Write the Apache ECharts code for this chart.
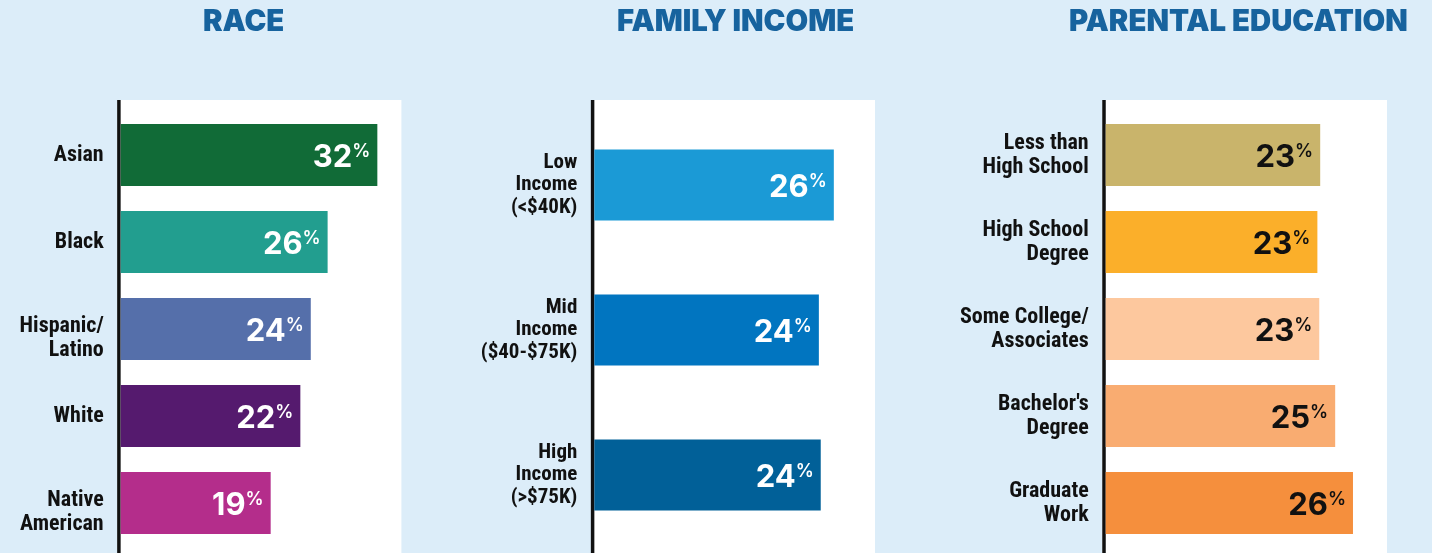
<!DOCTYPE html>
<html>
<head>
<meta charset="utf-8">
<script src="https://cdn.jsdelivr.net/npm/echarts@6/dist/echarts.min.js"></script>
<style>
  html, body { margin: 0; padding: 0; background: #dcedf9; }
  #chart { width: 1432px; height: 553px; }
</style>
</head>
<body>
<div id="chart"></div>
<script>
  // data
  const titles = ['RACE', 'FAMILY INCOME', 'PARENTAL EDUCATION'];
  const raceCats = ['Asian', 'Black', 'Hispanic/\nLatino', 'White', 'Native\nAmerican'];
  const raceVals = [32.0, 25.8, 23.7, 22.4, 18.7];
  const incomeCats = ['Low\nIncome\n(<$40K)', 'Mid\nIncome\n($40-$75K)', 'High\nIncome\n(>$75K)'];
  const incomeVals = [25.6, 24.0, 24.2];
  const eduCats = ['Less than\nHigh School', 'High School\nDegree', 'Some College/\nAssociates', "Bachelor's\nDegree", 'Graduate\nWork'];
  const eduVals = [22.9, 22.6, 22.8, 24.5, 26.4];

  // styles
  const raceColors = ['#116b37', '#229e8f', '#556faa', '#551a6e', '#b42d8b'];
  const incomeColors = ['#1b9ad6', '#0175c0', '#016098'];
  const eduColors = ['#c9b46b', '#fbaf2a', '#fdc89e', '#f9ac71', '#f58f3d'];
  const catFont = "'Roboto Condensed','Liberation Sans Narrow','DejaVu Sans Condensed',sans-serif";
  const numFont = "Inter, Roboto, sans-serif";

  const chart = echarts.init(document.getElementById('chart'));

  // plot boxes: white area + axis line drawn across the full height
  const panels = [
    { x: 117, w: 284.4, line: 118.9, left: 120.7, width: 280.7, top: 111.5, max: 35 },
    { x: 591, w: 284, line: 592.6, left: 594.3, width: 280.7, top: 112.5, max: 30 },
    { x: 1102, w: 285, line: 1104, left: 1105.7, width: 281, top: 111.5, max: 30 }
  ];

  function labelRich(textColor) {
    return {
      show: true,
      position: 'insideRight',
      distance: 7,
      offset: [0, 3],
      formatter: p => '{n|' + Math.round(p.value) + '}{p|%}',
      rich: {
        n: { fontSize: 31, fontWeight: 700, fontFamily: numFont, color: textColor, lineHeight: 30 },
        p: { fontSize: 18, fontWeight: 600, fontFamily: numFont, color: textColor, verticalAlign: 'top', lineHeight: 15 }
      }
    };
  }

  function barSeries(i, vals, colors, barW, textColor) {
    return {
      type: 'bar',
      xAxisIndex: i,
      yAxisIndex: i,
      data: vals,
      barWidth: barW,
      itemStyle: { color: p => colors[p.dataIndex] },
      label: labelRich(textColor),
      silent: true
    };
  }

  function catAxis(i, cats, size, lh, formatter) {
    return {
      type: 'category', gridIndex: i, inverse: true, data: cats,
      axisLine: { show: false }, axisTick: { show: false },
      axisLabel: {
        margin: 17, color: '#111', fontSize: size, fontWeight: 'bold', fontFamily: catFont, lineHeight: lh,
        formatter: formatter,
        rich: { sp: { fontSize: 1, lineHeight: 18 } }
      }
    };
  }

  const graphic = [];
  panels.forEach(p => {
    graphic.push({ type: 'rect', shape: { x: p.x, y: 100, width: p.w, height: 453 }, style: { fill: '#ffffff' }, z: 0 });
    graphic.push({ type: 'line', shape: { x1: p.line, y1: 100, x2: p.line, y2: 553 }, style: { stroke: '#111', lineWidth: 3.5 }, z: 1 });
  });

  const titleLeft = [203, 617, 1069];

  chart.setOption({
    backgroundColor: '#dcedf9',
    animation: false,
    title: titles.map((t, i) => ({
      text: t,
      left: titleLeft[i],
      top: 8,
      padding: 0,
      textStyle: { color: '#17639e', fontSize: 29.3, fontWeight: 900, fontFamily: "Inter, Roboto, sans-serif" }
    })),
    graphic: graphic,
    grid: panels.map(p => ({ left: p.left, width: p.width, top: p.top, height: 435 })),
    xAxis: panels.map((p, i) => ({ type: 'value', gridIndex: i, min: 0, max: p.max, show: false })),
    yAxis: [
      // in the race panel the two-line names sit lower than the bar centre
      catAxis(0, raceCats, 22, 24, v => v.indexOf('\n') >= 0 ? '{sp| }\n' + v : v),
      catAxis(1, incomeCats, 21, 22.5),
      catAxis(2, eduCats, 22, 24)
    ],
    series: [
      barSeries(0, raceVals, raceColors, 62, '#ffffff'),
      barSeries(1, incomeVals, incomeColors, 71, '#ffffff'),
      barSeries(2, eduVals, eduColors, 62, '#111111')
    ]
  });
</script>
</body>
</html>
